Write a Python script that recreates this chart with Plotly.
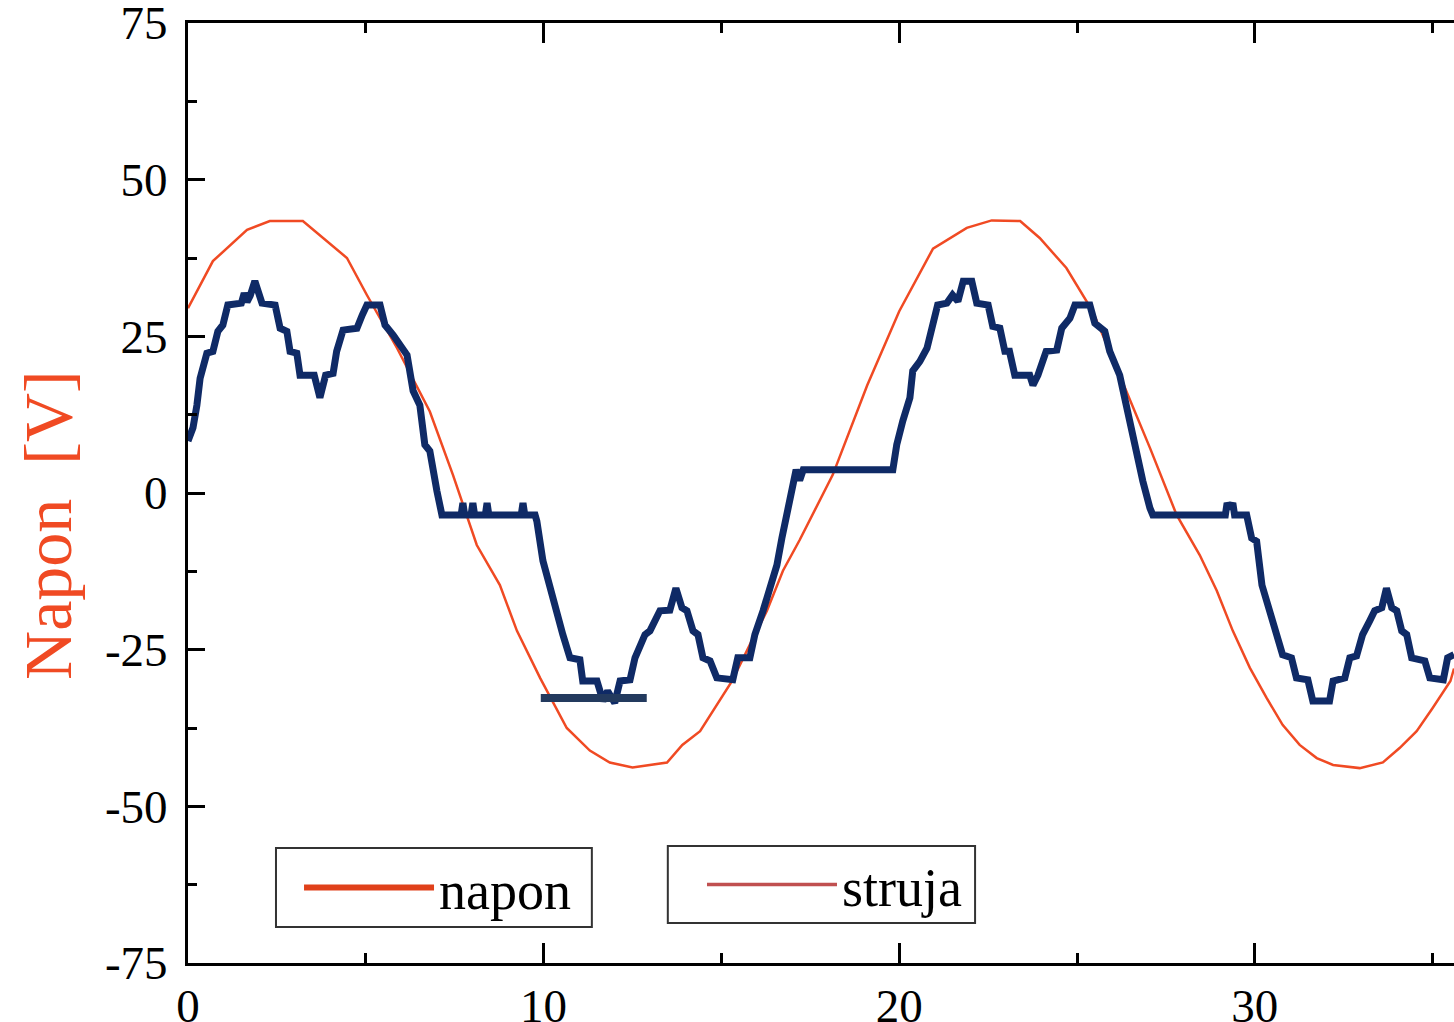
import plotly.graph_objects as go

# napon (voltage) curve
napon_x = [0, 0.7, 1.66, 2.3, 3.23, 3.8, 4.47, 5.03, 5.88, 6.8, 7.45, 8.12, 8.77, 9.25, 9.9,
           10.65, 11.3, 11.86, 12.5, 13.47, 13.9, 14.4, 14.87, 15.3, 15.8, 16.28, 16.73, 17.2,
           18.13, 19.1, 20.0, 20.95, 21.9, 22.6, 23.4, 23.95, 24.7, 25.44, 26.2, 27.05, 27.8,
           28.45, 28.93, 29.38, 29.86, 30.33, 30.78, 31.26, 31.74, 32.2, 32.95, 33.6, 34.07,
           34.55, 35.0, 35.5, 35.6]
napon_y = [29.5, 37, 42, 43.4, 43.4, 40.7, 37.5, 31.6, 23.1, 13, 2.9, -8.3, -14.7, -22, -29.5,
           -37.5, -41.1, -43, -43.8, -43, -40.2, -38, -33.8, -30, -24.2, -18.8, -12.4, -7.5,
           2.9, 17.2, 29, 39, 42.3, 43.5, 43.4, 40.7, 35.9, 29, 18.8, 7.2, -3.5,
           -9.9, -15.6, -22, -27.9, -32.7, -37, -40.2, -42.3, -43.4, -43.9, -43, -40.7,
           -38, -34.3, -30, -28]

# struja (current) curve
struja_x = [0, 0.14, 0.25, 0.34, 0.53, 0.7, 0.84, 0.98, 1.12, 1.5, 1.58, 1.66, 1.75, 1.88, 2.08,
            2.45, 2.59, 2.78, 2.87, 3.06, 3.15, 3.55, 3.71, 3.87, 4.08, 4.18, 4.36, 4.75, 4.9,
            5.03, 5.4, 5.54, 5.77, 5.96, 6.16, 6.33, 6.52, 6.66, 6.8, 7.0, 7.14, 7.68, 7.73,
            7.78, 7.96, 8.01, 8.06, 8.36, 8.41, 8.46, 9.37, 9.42, 9.47, 9.76, 9.81, 9.98, 10.18,
            10.37, 10.54, 10.74, 11.02, 11.1, 11.5, 11.67, 11.8, 12.0, 12.15, 12.43, 12.57,
            12.85, 12.99, 13.27, 13.55, 13.72, 13.89, 14.03, 14.2, 14.34, 14.48, 14.68, 14.87,
            15.32, 15.46, 15.8, 15.94, 16.17, 16.36, 16.56, 16.7, 16.84, 17.0, 17.1, 17.2, 17.3,
            19.82, 19.93, 20.1, 20.3, 20.38, 20.58, 20.78, 20.92, 21.08, 21.34, 21.5, 21.65,
            21.8, 22.04, 22.18, 22.5, 22.63, 22.83, 22.97, 23.1, 23.25, 23.67, 23.76, 23.9,
            24.13, 24.43, 24.57, 24.8, 24.94, 25.36, 25.5, 25.78, 25.92, 26.2, 26.34, 26.48,
            26.68, 26.85, 27.05, 27.13, 29.17, 29.22, 29.3, 29.38, 29.43, 29.77, 29.91, 30.05,
            30.2, 30.42, 30.61, 30.78, 31.03, 31.17, 31.49, 31.63, 32.1, 32.2, 32.53, 32.67,
            32.86, 33.03, 33.23, 33.37, 33.57, 33.7, 33.85, 33.99, 34.13, 34.27, 34.41, 34.78,
            34.92, 35.3, 35.42, 35.6]
struja_y = [8.3, 10.4, 14, 18.3, 22.3, 22.6, 25.8, 26.8, 30, 30.3, 31.9, 30.5, 31.5, 33.8, 30.3,
            30, 26.3, 25.8, 22.6, 22.3, 18.8, 18.8, 15.2, 18.8, 19.1, 22.6, 26, 26.3, 28.4,
            30, 30, 26.8, 25.2, 23.6, 22, 16.3, 14, 7.7, 6.7, 0.3, -3.5, -3.5, -1.6,
            -3.5, -3.5, -1.6, -3.5, -3.5, -1.6, -3.5, -3.5, -1.6, -3.5, -3.5, -4.5, -10.8, -15.2,
            -18.8, -22.6, -26.3, -26.6, -30, -30, -33.2, -31.6, -33.5, -30, -29.8, -26.3,
            -22.6, -22, -18.8, -18.7, -15.2, -18.3, -18.8, -22, -22.6, -26.3, -26.8, -29.5,
            -29.8, -26.3, -26.3, -22.6, -18.8, -15.2, -11.5, -7.2, -3.5, 0.8, 3.7, 2, 3.7,
            3.7, 7.7, 11.5, 15.2, 19.5, 21, 23.1, 26.3, 30, 30.3, 31.6, 30.6,
            33.8, 33.8, 30.3, 30, 26.6, 26.3, 22.6, 22.6, 18.8, 18.8, 17.2, 18.8,
            22.6, 22.8, 26.3, 27.9, 30, 30, 27.1, 25.8, 22.6, 18.8, 15.2, 10.8,
            6, 1.9, -2.4, -3.5, -3.5, -1.6, -2.5, -1.6, -3.5, -3.5, -7.2, -7.7,
            -14.7, -18.8, -22, -25.8, -26.3, -29.5, -29.8, -33.2, -33.2, -30, -29.5, -26.3,
            -26, -22.6, -20.4, -18.8, -18.3, -15.2, -18.3, -18.8, -22, -22.6, -26.3, -26.8,
            -29.5, -29.8, -26.3, -25.8]

# stray horizontal marker segment seen in the picture
bar_x = [9.92, 12.9]
bar_y = [-32.7, -32.7]

x_ticks = [0, 10, 20, 30]
x_ticktext = ["0", "10", "20", "30"]
y_ticks = [-75, -50, -25, 0, 25, 50, 75]
y_ticktext = ["-75", "-50", "-25", "0", "25", "50", "75"]

FONT = "Liberation Serif"
NAPON_C = "#f04a23"
STRUJA_C = "#0f2a66"

fig = go.Figure()
fig.add_trace(go.Scatter(x=napon_x, y=napon_y, mode="lines",
                         line=dict(color=NAPON_C, width=2.5), showlegend=False))
fig.add_trace(go.Scatter(x=struja_x, y=struja_y, mode="lines",
                         line=dict(color=STRUJA_C, width=7), showlegend=False))
fig.add_trace(go.Scatter(x=bar_x, y=bar_y, mode="lines",
                         line=dict(color="#233a5e", width=8), showlegend=False))
# legend entries
fig.add_trace(go.Scatter(x=[None], y=[None], mode="lines", name="napon",
                         line=dict(color="#e0401a", width=6), legend="legend"))
fig.add_trace(go.Scatter(x=[None], y=[None], mode="lines", name="struja",
                         line=dict(color="#c05050", width=3.5), legend="legend2"))

legend_common = dict(font=dict(family=FONT, size=54, color="black"),
                     borderwidth=0, bgcolor="rgba(0,0,0,0)",
                     itemwidth=130, xanchor="left", yanchor="middle")

# legend frames (paper coordinates)
frames = [(0.0695, 0.0383, 0.319, 0.1223), (0.379, 0.0426, 0.6217, 0.1245)]
shapes = [dict(type="rect", xref="paper", yref="paper", x0=a, y0=b, x1=c, y1=d,
               line=dict(color="#333333", width=2), fillcolor="white", layer="below")
          for a, b, c, d in frames]

fig.update_layout(
    width=1454, height=1022,
    margin=dict(l=188, r=0, t=23, b=59, autoexpand=False),
    paper_bgcolor="white", plot_bgcolor="white",
    font=dict(family=FONT, size=47, color="black"),
    shapes=shapes,
    legend=dict(x=0.0877, y=0.0798, **legend_common),
    legend2=dict(x=0.4060, y=0.0830, **legend_common),
    xaxis=dict(range=[0, 35.6], tickvals=x_ticks, ticktext=x_ticktext, ticks="inside",
               ticklen=20, tickwidth=3, tickcolor="black", showline=True, linewidth=3,
               linecolor="black", mirror="ticks", showgrid=False, zeroline=False,
               automargin=False, ticklabelstandoff=0,
               minor=dict(dtick=5, ticks="inside", ticklen=10, tickwidth=3, tickcolor="black"),
               tickfont=dict(family=FONT, size=47)),
    yaxis=dict(range=[-75, 75], tickvals=y_ticks, ticktext=y_ticktext, ticks="inside",
               ticklen=17, tickwidth=3, tickcolor="black", showline=True, linewidth=3,
               linecolor="black", showgrid=False, zeroline=False, automargin=False,
               ticklabeloverflow="allow", ticklabelstandoff=8,
               minor=dict(dtick=12.5, tick0=0, ticks="inside", ticklen=9, tickwidth=3,
                          tickcolor="black"),
               tickfont=dict(family=FONT, size=47)),
    annotations=[dict(text="Napon  [V]", xref="paper", yref="paper", x=-0.1106, y=0.466,
                      textangle=-90, showarrow=False, xanchor="center", yanchor="middle",
                      font=dict(family=FONT, size=68, color=NAPON_C))],
)

fig.write_html("out.html")
